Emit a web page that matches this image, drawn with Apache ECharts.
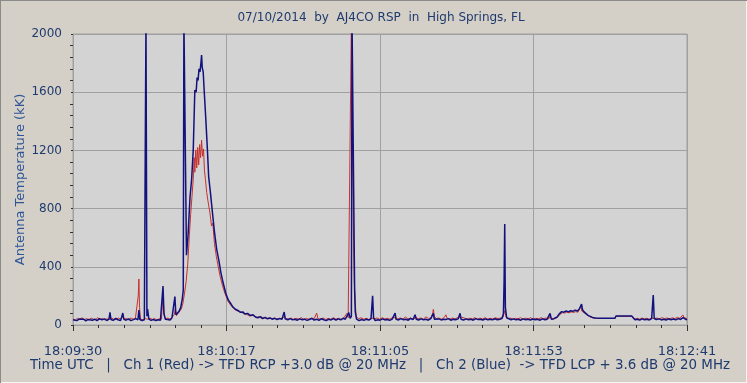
<!DOCTYPE html>
<html>
<head>
<meta charset="utf-8">
<script src="https://cdn.jsdelivr.net/npm/echarts@6/dist/echarts.min.js"></script>
<style>
html,body{margin:0;padding:0;background:#d4d0c8;}
#c{width:747px;height:383px;box-sizing:border-box;box-shadow:inset 1px 1px 0 #8a8a8a, inset -1px -1px 0 #f4f4f4;}
</style>
</head>
<body>
<div id="c"></div>
<script>
// Texts and axis labels
const titleText = '07/10/2014  by  AJ4CO RSP  in  High Springs, FL';
const footerText = 'Time UTC   |   Ch 1 (Red) -> TFD RCP +3.0 dB @ 20 MHz   |   Ch 2 (Blue)  -> TFD LCP + 3.6 dB @ 20 MHz';
const yAxisName = 'Antenna Temperature (kK)';
const xTickLabels = ['18:09:30', '18:10:17', '18:11:05', '18:11:53', '18:12:41'];
const yTicks = [0, 400, 800, 1200, 1600, 2000];

// Ch 1 (red): [seconds since 18:09:30, kK]
const redCh1 = [[0,40],[0.7,34],[1.4,46],[2.1,38],[2.8,50],[3.5,36],[4.2,44],[4.9,35],[5.6,48],[6.3,40],[7,36],[7.7,50],[8.4,38],[9.1,45],[9.8,36],[10.5,42],[11.3,38],[12,47],[12.7,40],[13.4,36],[14.1,48],[14.8,40],[15.5,60],[15.9,40],[16.6,45],[17.3,36],[18,48],[18.7,40],[19.4,44],[20.0,50],[20.3,200],[20.5,316],[20.7,120],[21,40],[21.8,36],[22.5,44],[23.2,40],[24,46],[24.7,38],[25.4,44],[26.1,36],[26.8,42],[27.5,40],[28,200],[28.3,70],[28.8,42],[29.5,48],[30.2,40],[30.9,55],[31.5,70],[31.8,110],[32.2,65],[32.7,80],[33.2,90],[33.7,110],[34.2,150],[34.7,220],[35.2,300],[35.7,420],[36.2,620],[36.6,760],[37.0,880],[37.4,1000],[37.7,1150],[37.9,1050],[38.2,1203],[38.5,1080],[38.8,1220],[39.1,1100],[39.4,1240],[39.7,1150],[40.0,1271],[40.3,1160],[40.6,1210],[40.9,1060],[41.2,1000],[41.6,910],[42.0,850],[42.6,770],[43.1,680],[43.5,700],[44,560],[44.6,470],[45.1,480],[45.7,340],[46.5,270],[47.3,215],[48.3,160],[49.1,135],[49.9,115],[50.8,100],[51.7,92],[52.9,82],[53.8,75],[55,62],[56,66],[57,50],[57.8,56],[58.6,46],[59.4,52],[60.2,44],[61,50],[61.8,42],[62.6,48],[63.4,40],[64.2,46],[65,42],[65.8,60],[66.2,44],[67,40],[67.8,48],[68.6,38],[69.4,46],[70.2,40],[71,50],[71.8,38],[72.6,45],[73.4,40],[74.2,48],[75,42],[75.8,82],[76.2,44],[77,40],[77.8,48],[78.6,38],[79.4,45],[80.2,40],[81,50],[81.8,40],[82.6,46],[83.4,38],[84.2,48],[85.2,80],[85.6,50],[86.2,60],[86.6,2100],[86.9,2100],[87.2,700],[87.5,300],[87.8,150],[88.1,60],[88.8,42],[89.6,50],[90.4,40],[91.2,46],[92,38],[92.8,48],[93.2,60],[93.8,42],[94.6,48],[95.4,40],[96.2,50],[97,42],[97.8,46],[98.6,40],[99.4,52],[100.2,50],[101,42],[101.8,48],[102.6,40],[103.4,55],[104.2,42],[105,48],[105.8,40],[106.6,50],[107.4,44],[108.2,48],[109,40],[109.8,56],[110.6,44],[111.4,50],[111.9,80],[112.1,108],[112.4,60],[113,44],[113.8,48],[114.6,40],[115.4,50],[116,70],[116.4,45],[117.2,40],[118,48],[118.8,42],[119.6,50],[120.4,55],[121,42],[121.8,48],[122.6,40],[123.4,46],[124.2,42],[125,50],[125.8,40],[126.6,47],[127.4,42],[128.2,50],[129,40],[129.8,46],[130.6,42],[131.4,50],[132.2,44],[133,48],[133.8,55],[134.3,100],[134.7,60],[135.2,42],[136,48],[136.8,40],[137.6,46],[138.4,42],[139.2,50],[140,40],[140.8,47],[141.6,42],[142.4,50],[143.2,40],[144,46],[144.8,42],[145.6,50],[146.4,44],[147.2,48],[148,42],[148.4,60],[148.8,44],[149.6,46],[150.3,48],[150.9,60],[151.5,72],[152.2,85],[152.9,82],[153.6,88],[154.3,84],[155,90],[155.7,86],[156.4,92],[157.1,88],[157.7,100],[158.0,130],[158.3,95],[158.8,88],[159.4,78],[160,66],[160.8,56],[161.6,50],[162.5,46],[163.9,45],[168.6,45],[168.9,60],[173.8,60],[174.2,52],[174.8,40],[175.5,46],[176.3,40],[177,48],[177.8,42],[178.5,46],[179.3,40],[180,48],[180.5,60],[180.9,44],[181.6,48],[182.4,42],[183.2,50],[184,44],[184.8,48],[185.6,40],[186.4,50],[187.2,44],[188,52],[188.8,46],[189.4,55],[189.7,69],[190.1,50],[190.6,48],[191,44]];

// Ch 2 (blue): [seconds since 18:09:30, kK]
const blueCh2 = [[0,36],[0.6,48],[1.2,30],[2,42],[2.6,32],[3.3,40],[4,28],[4.7,38],[5.3,46],[6,33],[6.8,40],[7.5,30],[8.2,44],[9,35],[9.8,42],[10.5,31],[11.2,40],[11.5,87],[11.8,38],[12.5,32],[13.3,45],[14,36],[14.8,30],[15.5,82],[15.8,40],[16.5,33],[17.3,42],[18,30],[18.8,37],[19.5,44],[20.2,36],[20.5,103],[20.8,38],[21.5,30],[22.2,36],[22.7,2100],[23.0,60],[23.2,110],[23.6,40],[24.3,32],[25,38],[25.8,30],[26.5,36],[27.2,33],[27.7,45],[28.0,268],[28.3,80],[28.7,40],[29.4,38],[30.2,34],[30.8,50],[31.3,60],[31.7,195],[32.0,70],[32.5,75],[33,95],[33.5,120],[34,180],[34.3,240],[34.5,2100],[34.8,2100],[35.1,2100],[35.3,480],[35.8,620],[36.4,880],[36.9,1000],[37.4,1200],[37.9,1615],[38.3,1600],[38.6,1700],[38.9,1680],[39.2,1760],[39.5,1740],[39.8,1800],[40.0,1856],[40.2,1770],[40.5,1740],[40.8,1615],[41.3,1420],[41.8,1210],[42.2,1020],[42.7,920],[43.3,790],[44,640],[44.7,520],[45.4,440],[46,360],[46.7,290],[47.5,220],[48.3,172],[49,150],[49.7,125],[50.5,108],[51.3,100],[52,88],[52.8,90],[53.5,75],[54.3,80],[55.1,66],[56,70],[56.8,55],[57.5,50],[58.3,58],[59,44],[59.8,52],[60.5,42],[61.3,48],[62,40],[62.8,46],[63.5,38],[64.3,44],[65,40],[65.7,89],[66,42],[66.8,36],[67.5,44],[68.3,35],[69,40],[69.8,33],[70.5,42],[71.3,36],[72,40],[72.8,32],[73.5,38],[74.3,45],[75,34],[75.8,40],[76.5,32],[77.3,43],[78,36],[78.8,30],[79.5,40],[80.3,35],[81,44],[81.8,33],[82.5,42],[83.3,36],[84,46],[84.7,40],[85.3,50],[85.8,85],[86.2,45],[86.6,60],[86.8,2100],[87.0,2100],[87.2,2100],[87.4,2100],[87.6,250],[87.8,90],[88.2,40],[89,30],[89.8,38],[90.5,32],[91.3,40],[92,34],[92.7,42],[93.2,200],[93.5,50],[94,30],[94.8,36],[95.5,33],[96.3,42],[97,35],[97.8,38],[98.5,32],[99.3,40],[100.2,82],[100.5,40],[101.3,35],[102,44],[102.8,36],[103.5,40],[104.3,33],[105,45],[105.8,38],[106.4,70],[106.8,40],[107.5,34],[108.3,42],[109,36],[109.8,40],[110.5,33],[111.3,44],[112.1,80],[112.4,40],[113,36],[113.8,42],[114.5,35],[115.3,40],[116,38],[116.8,44],[117.5,33],[118.3,40],[119,36],[119.8,42],[120.4,80],[120.7,40],[121.5,34],[122.3,42],[123,36],[123.8,40],[124.5,33],[125.3,44],[126,37],[126.8,40],[127.5,34],[128.3,42],[129,36],[129.8,40],[130.5,35],[131.3,43],[132,36],[132.8,40],[133.5,46],[133.9,80],[134.1,298],[134.3,694],[134.5,120],[134.9,50],[135.5,40],[136.3,36],[137,42],[137.8,35],[138.5,40],[139.3,33],[140,42],[140.8,36],[141.5,40],[142.3,34],[143,41],[143.8,36],[144.5,40],[145.3,33],[146,42],[146.8,36],[147.5,40],[148.0,45],[148.4,80],[148.8,40],[149.5,42],[150.1,40],[150.6,55],[151.2,75],[152,92],[152.7,88],[153.4,96],[154.1,90],[154.8,98],[155.5,94],[156.2,102],[156.9,96],[157.5,110],[157.9,100],[158.2,144],[158.5,105],[159.0,90],[159.5,80],[160.2,66],[160.8,58],[161.6,52],[162.5,48],[163.9,46],[168.6,46],[168.9,62],[173.8,62],[174.2,52],[174.8,36],[175.5,40],[176.3,34],[177,42],[177.8,36],[178.5,40],[179.3,35],[180,44],[180.5,206],[180.8,45],[181.5,38],[182.3,42],[183,35],[183.8,40],[184.5,34],[185.3,43],[186,36],[186.8,41],[187.5,35],[188.3,44],[189,38],[189.8,50],[190.5,40],[191,36]];

const FONT = 'DejaVu Sans';
const TXT = '#1f3a6e';
const chart = echarts.init(document.getElementById('c'), null, {renderer: 'canvas'});
const xSpan = 191;
const xStep = xSpan / (xTickLabels.length - 1);

chart.setOption({
  animation: false,
  backgroundColor: 'transparent',
  graphic: [
    {type: 'text', x: 381, y: 18, style: {text: titleText, fill: TXT, font: '12px "DejaVu Sans"', align: 'center', verticalAlign: 'middle'}},
    {type: 'text', x: 30, y: 366, style: {text: footerText, fill: TXT, font: '13.4px "DejaVu Sans"', align: 'left', verticalAlign: 'middle'}}
  ],
  grid: {left: 73, right: 60, top: 34, bottom: 58, show: true, backgroundColor: '#d3d3d3', borderColor: '#a0a0a0', borderWidth: 1},
  xAxis: {
    type: 'value', min: 0, max: xSpan, interval: xStep, offset: 5,
    axisLine: {show: false},
    axisTick: {show: true, length: 6, lineStyle: {color: '#303030'}},
    minorTick: {show: true, splitNumber: 6, length: 3, lineStyle: {color: '#303030'}},
    axisLabel: {margin: 15, color: TXT, fontFamily: FONT, fontSize: 13,
      formatter: v => xTickLabels[Math.round(v / xStep)]},
    splitLine: {show: true, lineStyle: {color: '#a0a0a0', width: 1}}
  },
  yAxis: {
    type: 'value', min: yTicks[0], max: yTicks[yTicks.length - 1], interval: yTicks[1] - yTicks[0], offset: 4,
    name: yAxisName, nameLocation: 'middle', nameGap: 42, nameMoveOverlap: false,
    nameTextStyle: {color: '#2f5597', fontFamily: FONT, fontSize: 13},
    axisLine: {show: false},
    axisTick: {show: true, length: 2, lineStyle: {color: '#303030'}},
    minorTick: {show: true, splitNumber: 5, length: 3, lineStyle: {color: '#303030'}},
    axisLabel: {margin: 7, color: TXT, fontFamily: FONT, fontSize: 12, formatter: v => String(v)},
    splitLine: {show: true, lineStyle: {color: '#a0a0a0', width: 1}}
  },
  series: [
    {name: 'Ch 1 (Red)', type: 'line', data: redCh1, showSymbol: false, clip: true,
      lineStyle: {color: '#c8302c', width: 1}, itemStyle: {color: '#c8302c'}},
    {name: 'Ch 2 (Blue)', type: 'line', data: blueCh2, showSymbol: false, clip: true,
      lineStyle: {color: '#12127e', width: 1.5}, itemStyle: {color: '#12127e'}}
  ]
});
</script>
</body>
</html>
